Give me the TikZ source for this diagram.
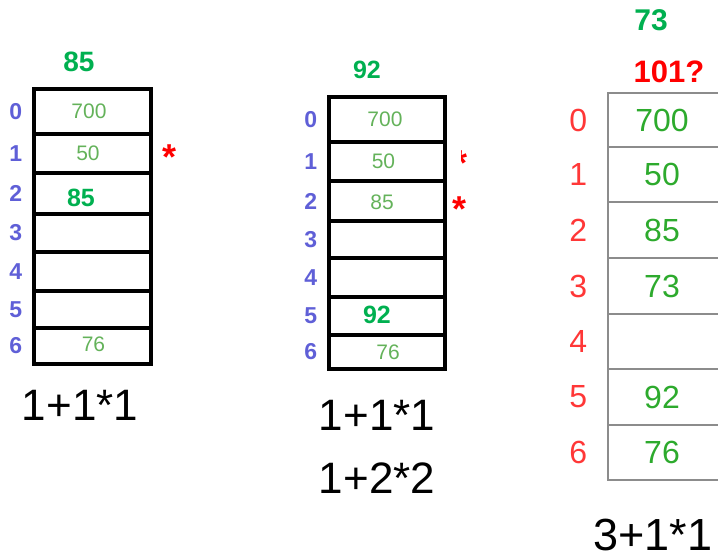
\documentclass[tikz,border=0pt]{standalone}
\usepackage{fontspec}
\setmainfont{Liberation Sans}
\usetikzlibrary{positioning}
\definecolor{okgreen}{RGB}{0,176,80}
\definecolor{softgreen}{RGB}{100,178,90}
\definecolor{idxblue}{RGB}{95,95,215}
\definecolor{cellgreen}{RGB}{45,170,45}
\definecolor{idxred}{RGB}{255,55,55}
\definecolor{boxgray}{RGB}{140,140,140}
\newcommand{\fsz}[1]{\fontsize{#1}{#1}\selectfont}

\begin{document}
\begin{tikzpicture}[x=1pt,y=-1pt,
  bigcell/.style={draw=black, line width=3.5pt, minimum width=117pt, inner sep=0pt},
  thincell/.style={draw=boxgray, line width=1.5pt, minimum width=111pt, inner sep=0pt},
  idx/.style={inner sep=0pt, text=idxblue, font=\fsz{23}\bfseries},
  idxr/.style={inner sep=0pt, text=idxred, font=\fsz{32}},
  val/.style={inner sep=0pt, text=softgreen, font=\fsz{21}},
  newval/.style={inner sep=0pt, text=okgreen, font=\fsz{25}\bfseries},
  bigval/.style={inner sep=0pt, text=cellgreen, font=\fsz{32}},
  toplbl/.style={inner sep=0pt, text=okgreen, font=\fsz{28}\bfseries},
  redstar/.style={inner sep=0pt, text=red, font=\fsz{36}\bfseries},
  sum/.style={inner sep=0pt, font=\fsz{44}}]
\useasboundingbox (0,0) rectangle (718,559);

% first table
\foreach \i/\ta/\tb in {0/89/134,1/134/173,2/173/214,3/214/252,4/252/291,5/291/328,6/328/364}
  \node[bigcell, minimum height=\tb pt-\ta pt] (a\i) at (92.5,{(\ta+\tb)/2}) {};
\foreach \i in {0,...,6}
  \node[idx, left=10pt of a\i.west] (ia\i) {\i};
\node[val, xshift=-3.5pt] (va0) at (a0) {700};
\node[val, xshift=-4.5pt] (va1) at (a1) {50};
\node[newval, xshift=-11.5pt, yshift=-4pt] (va2) at (a2) {85};
\node[val, xshift=1pt, yshift=2pt] (va6) at (a6) {76};
\node[toplbl] (ka) at (79,62) {85};
\node[redstar] (sa) at (170,157) {*};
\node[sum] (fa) at (80,405) {1+1*1};

% second table
\foreach \i/\ta/\tb in {0/97/142,1/142/181,2/181/221,3/221/258,4/258/297,5/297/335,6/335/369}
  \node[bigcell, minimum width=116pt, minimum height=\tb pt-\ta pt] (b\i) at (387,{(\ta+\tb)/2}) {};
\foreach \i in {0,...,6}
  \node[idx, left=10pt of b\i.west] (ib\i) {\i};
\node[val, xshift=-2pt] (vb0) at (b0) {700};
\node[val, xshift=-3.5pt] (vb1) at (b1) {50};
\node[val, xshift=-5pt, yshift=-1pt] (vb2) at (b2) {85};
\node[newval, xshift=-10pt, yshift=1pt] (vb5) at (b5) {92};
\node[val, xshift=1pt] (vb6) at (b6) {76};
\node[toplbl, font=\fsz{25}\bfseries] (kb) at (367,70) {92};
\begin{scope}
  \clip (461,140) rectangle (476,166);
  \node[redstar] (sb1) at (461,163) {*};
\end{scope}
\node[redstar] (sb2) at (460,209) {*};
\node[sum] (fb1) at (377,415) {1+1*1};
\node[sum] (fb2) at (377,478) {1+2*2};

% third table
\begin{scope}
  \clip (0,0) rectangle (718,559);
  \foreach \i/\ta/\tb in {0/93/147,1/147/202,2/202/258,3/258/314,4/314/369,5/369/425,6/425/480}
    \node[thincell, minimum height=\tb pt-\ta pt] (c\i) at (663.5,{(\ta+\tb)/2}) {};
\end{scope}
\foreach \i in {0,...,6}
  \node[idxr, left=20pt of c\i.west] (ic\i) {\i};
\foreach \i/\v in {0/700,1/50,2/85,3/73,5/92,6/76}
  \node[bigval, xshift=-1.5pt] (vc\i) at (c\i) {\v};
\node[toplbl, font=\fsz{30}\bfseries] (kc) at (651,20) {73};
\node[toplbl, text=red, font=\fsz{31}\bfseries] (qc) at (669,72) {101?};
\node[sum, font=\fsz{45}] (fc) at (653,535) {3+1*1};
\end{tikzpicture}
\end{document}
